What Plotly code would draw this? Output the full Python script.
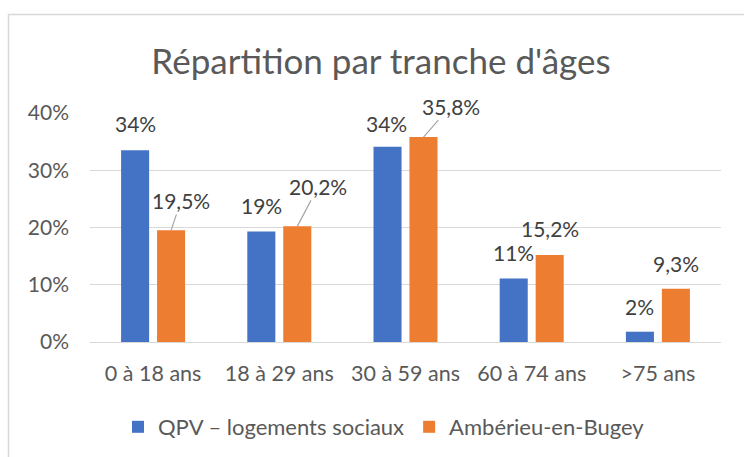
import plotly.graph_objects as go

categories = ["0 à 18 ans", "18 à 29 ans", "30 à 59 ans", "60 à 74 ans", ">75 ans"]
qpv_values = [33.5, 19.3, 34.1, 11.1, 1.8]
amb_values = [19.5, 20.2, 35.8, 15.2, 9.3]
series_names = ["QPV – logements sociaux", "Ambérieu-en-Bugey"]
title_text = "Répartition par tranche d'âges"
y_ticks = [0, 10, 20, 30, 40]
y_tick_labels = [f"{t}%" for t in y_ticks]

BLUE = "#4472C4"
ORANGE = "#ED7D31"
GRID = "#D9D9D9"
TXT = "#595959"
LBL = "#404040"
FONT = "Lato"

W, H = 744, 457
L, R, T, B = 90, 23, 113, 115
plot_w = W - L - R
plot_h = H - T - B

fig = go.Figure()
fig.add_trace(go.Bar(x=categories, y=qpv_values, name=series_names[0],
                     marker=dict(color=BLUE, line=dict(width=0))))
fig.add_trace(go.Bar(x=categories, y=amb_values, name=series_names[1],
                     marker=dict(color=ORANGE, line=dict(width=0))))

def fr(v, dec):
    return (f"{v:.{dec}f}").replace(".", ",") + "%"

bar_off = 18
annotations = []
qpv_shift = [(0, 27), (0, 26), (-1, 23), (0, 26), (0, 25)]
amb_leader = {0: (10, -30), 1: (21, -40), 2: (27, -31)}
amb_shift = [(0, 0), (0, 0), (0, 0), (0, 26), (0, 25)]

for i, (c, v) in enumerate(zip(categories, qpv_values)):
    dx, dy = qpv_shift[i]
    annotations.append(dict(x=c, y=v, xref="x", yref="y", text=fr(round(v), 0),
                            showarrow=False, xshift=-bar_off + dx, yshift=dy,
                            font=dict(family=FONT, size=21, color=LBL)))
for i, (c, v) in enumerate(zip(categories, amb_values)):
    if i in amb_leader:
        ax, ay = amb_leader[i]
        annotations.append(dict(x=c, y=v, xref="x", yref="y", text=fr(v, 1),
                                showarrow=True, arrowhead=0, arrowwidth=1.2,
                                arrowcolor="#A6A6A6", ax=ax, ay=ay, xshift=bar_off,
                                standoff=0, startstandoff=0,
                                font=dict(family=FONT, size=21, color=LBL)))
    else:
        dx, dy = amb_shift[i]
        annotations.append(dict(x=c, y=v, xref="x", yref="y", text=fr(v, 1),
                                showarrow=False, xshift=bar_off + dx, yshift=dy,
                                font=dict(family=FONT, size=21, color=LBL)))

def px_x(p):
    return (p - L) / plot_w

def px_y(p):
    return (H - B - p) / plot_h

fig.update_layout(
    width=W, height=H,
    margin=dict(l=L, r=R, t=T, b=B, autoexpand=False),
    paper_bgcolor="white", plot_bgcolor="white",
    barmode="group", bargap=0.43, bargroupgap=0.22,
    font=dict(family=FONT, color=TXT, size=21),
    title=dict(text=title_text, x=381 / W, xref="container", xanchor="center",
               y=1 - 62 / H, yref="container", yanchor="middle",
               font=dict(family=FONT, size=35, color=TXT)),
    showlegend=True,
    legend=dict(orientation="h", x=px_x(384), xanchor="center",
                y=px_y(427), yanchor="middle",
                font=dict(family=FONT, size=22, color=TXT),
                itemwidth=30, traceorder="normal"),
    xaxis=dict(showgrid=False, showline=True, linecolor=GRID, linewidth=1,
               ticks="", ticklabelstandoff=12,
               tickfont=dict(family=FONT, size=21.5, color=TXT)),
    yaxis=dict(range=[0, 40], tickmode="array", tickvals=y_ticks,
               ticktext=y_tick_labels,
               showgrid=True, gridcolor=GRID, gridwidth=1,
               zeroline=True, zerolinecolor=GRID, zerolinewidth=1,
               showline=False, ticks="", ticklabelstandoff=20,
               tickfont=dict(family=FONT, size=21, color=TXT)),
    annotations=annotations,
    shapes=[dict(type="rect", xref="paper", yref="paper",
                 x0=px_x(8.5), x1=px_x(800), y0=px_y(520), y1=px_y(14.5),
                 line=dict(color=GRID, width=1.5), fillcolor="rgba(0,0,0,0)",
                 layer="below")],
)

fig.write_html("out.html", config={"displayModeBar": False},
               post_script="document.body.style.margin='0';document.body.style.overflow='hidden';")
